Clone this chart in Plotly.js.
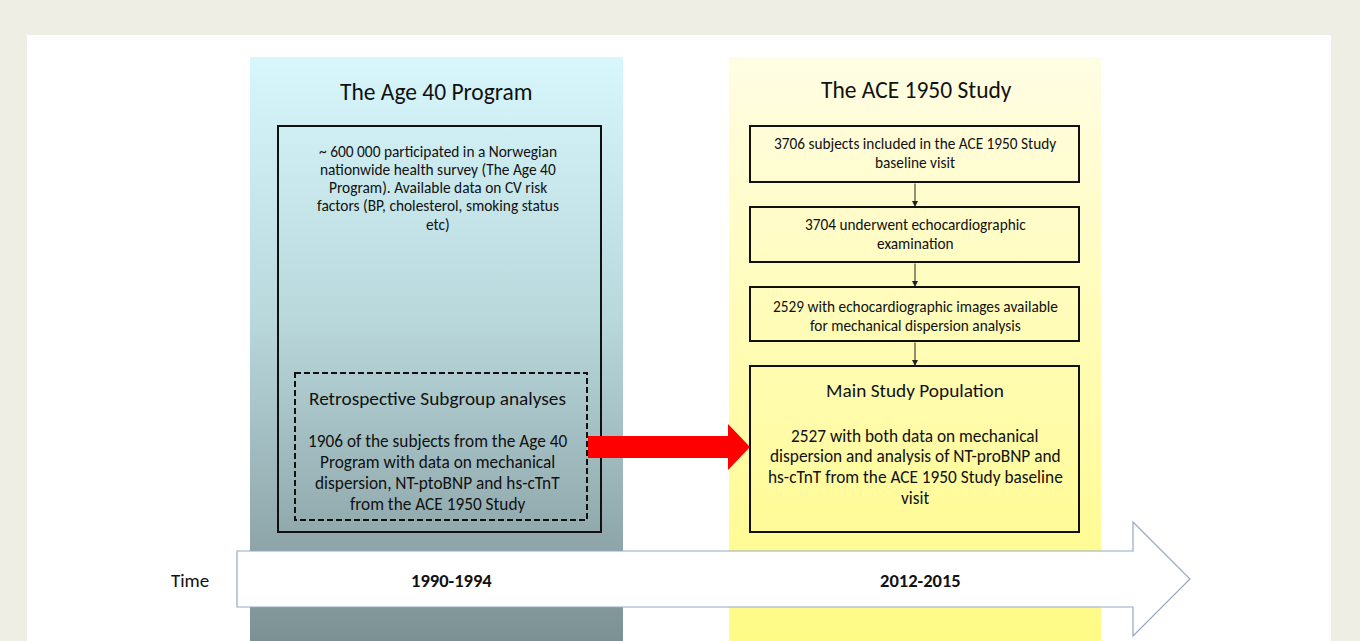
<!DOCTYPE html>
<html>
<head>
<meta charset="utf-8">
<script src="https://cdn.plot.ly/plotly-3.0.1.min.js"></script>
<style>html,body{margin:0;padding:0;background:#efeee5;}#chart{width:1360px;height:641px;}</style>
</head>
<body>
<div id="chart"></div>
<script>
// ---- content ----
const columnTitles = ["The Age 40 Program", "The ACE 1950 Study"];
const age40Text = ["~ 600 000 participated in a Norwegian", "nationwide health survey (The Age 40", "Program). Available data on CV risk", "factors (BP, cholesterol, smoking status", "etc)"];
const subgroupTitle = "Retrospective Subgroup analyses";
const subgroupText = ["1906 of the subjects from the Age 40", "Program with data on mechanical", "dispersion, NT-ptoBNP and hs-cTnT", "from the ACE 1950 Study"];
const aceSteps = [
  ["3706 subjects included in the ACE 1950 Study", "baseline visit"],
  ["3704 underwent echocardiographic", "examination"],
  ["2529 with echocardiographic images available", "for mechanical dispersion analysis"]
];
const mainTitle = "Main Study Population";
const mainText = ["2527 with both data on mechanical", "dispersion and analysis of NT-proBNP and", "hs-cTnT from the ACE 1950 Study baseline", "visit"];
const timeLabel = "Time";
const periods = ["1990-1994", "2012-2015"];

// ---- layout geometry (pixels) ----
const FONT = "Carlito, Lato, 'Liberation Sans', sans-serif";
const W = 1360, H = 641;

const cols = [
  {x0: 250, x1: 623, y0: 57, y1: 641, scale: [[0, '#d7f7fc'], [0.45, '#b9d8dc'], [1, '#7c9194']]},
  {x0: 729, x1: 1101, y0: 57, y1: 641, scale: [[0, '#fffde4'], [0.5, '#fffcb4'], [1, '#fffb86']]}
];

const traces = cols.map(c => ({
  type: 'scatter', mode: 'lines',
  x: [c.x0, c.x1, c.x1, c.x0, c.x0],
  y: [c.y0, c.y0, c.y1, c.y1, c.y0],
  fill: 'toself',
  line: {width: 0, color: 'rgba(0,0,0,0)'},
  fillgradient: {type: 'vertical', colorscale: c.scale, start: c.y0, stop: c.y1},
  hoverinfo: 'skip', showlegend: false
}));

const shapes = [];
shapes.push({type: 'rect', x0: 27, x1: 1331, y0: 35, y1: 660, fillcolor: '#ffffff', line: {width: 0}, layer: 'below'});
shapes.push({type: 'rect', x0: 278, x1: 601, y0: 126, y1: 532, line: {color: '#111', width: 2}, layer: 'above'});
shapes.push({type: 'rect', x0: 295, x1: 587, y0: 373, y1: 520, line: {color: '#111', width: 2, dash: '6px,3px'}, layer: 'above'});
const boxY = [[126, 182], [207, 262], [287, 341], [366, 532]];
boxY.forEach(b => shapes.push({type: 'rect', x0: 750, x1: 1079, y0: b[0], y1: b[1], line: {color: '#111', width: 2}, layer: 'above'}));
shapes.push({type: 'path', path: 'M 588 436 L 728 436 L 728 424 L 750 447 L 728 470 L 728 458 L 588 458 Z', fillcolor: '#ff0000', line: {width: 0}, layer: 'above'});
shapes.push({type: 'path', path: 'M 237 551 L 1133 551 L 1133 522 L 1190 579 L 1133 636 L 1133 607 L 237 607 Z', fillcolor: '#ffffff', line: {color: '#93a9c6', width: 1.2}, layer: 'above'});

const ann = [];
function txt(text, x, y, size) {
  ann.push({text: text, x: x, y: y, xref: 'x', yref: 'y', showarrow: false, font: {family: FONT, size: size, color: '#111'}, xanchor: 'center', yanchor: 'middle'});
}
function lines(arr, x, y0, step, size) {
  arr.forEach((t, i) => txt(t, x, y0 + i * step, size));
}
txt(columnTitles[0], 436, 92, 23.5);
txt(columnTitles[1], 916, 90, 23.5);
lines(age40Text, 438, 151, 18.3, 15.4);
txt(subgroupTitle, 437, 398, 19.3);
lines(subgroupText, 437, 441, 21, 17.3);
const stepY = [143.5, 224, 306];
aceSteps.forEach((s, i) => lines(s, 915, stepY[i], 19, 15.3));
txt(mainTitle, 915, 390, 19.3);
lines(mainText, 915, 436, 20.7, 17.3);
txt(timeLabel, 190, 580, 19);
txt('<b>' + periods[0] + '</b>', 451, 580, 18.5);
txt('<b>' + periods[1] + '</b>', 920, 580, 18.5);
for (let i = 0; i < 3; i++) {
  ann.push({x: 915, y: boxY[i + 1][0], ax: 915, ay: boxY[i][1], xref: 'x', yref: 'y', axref: 'x', ayref: 'y', text: '', showarrow: true, arrowhead: 2, arrowsize: 1.2, arrowwidth: 1, arrowcolor: '#222'});
}

const layout = {
  width: W, height: H,
  margin: {l: 0, r: 0, t: 0, b: 0},
  paper_bgcolor: '#efeee5', plot_bgcolor: 'rgba(0,0,0,0)',
  xaxis: {range: [0, W], visible: false, fixedrange: true},
  yaxis: {range: [H, 0], visible: false, fixedrange: true},
  shapes: shapes.map(s => Object.assign({xref: 'x', yref: 'y'}, s)),
  annotations: ann,
  showlegend: false
};
Plotly.newPlot('chart', traces, layout, {displayModeBar: false, staticPlot: true});
</script>
</body>
</html>
